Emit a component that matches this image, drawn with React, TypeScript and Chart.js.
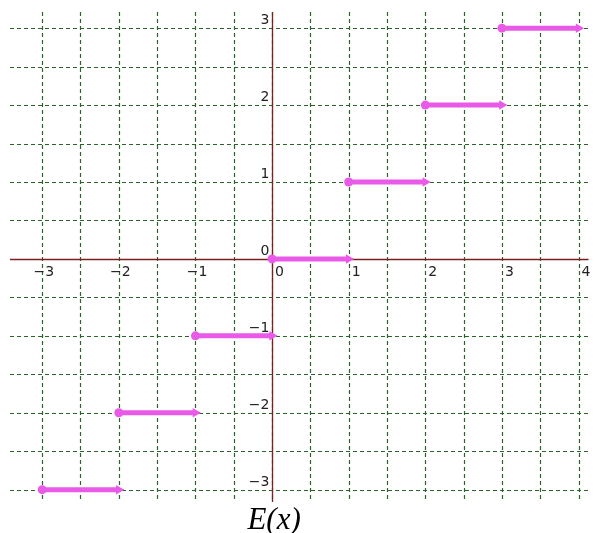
import React, { useEffect, useRef } from 'react';
import { Chart, registerables } from 'chart.js';
Chart.register(...registerables);

const stepStarts = [-3, -2, -1, 0, 1, 2, 3];
const stepEnds = [-2, -1, 0, 1, 2, 3, 4];
const stepValues = [-3, -2, -1, 0, 1, 2, 3];
const xTickValues = [-3, -2, -1, 0, 1, 2, 3, 4];
const xTickLabels = ['−3', '−2', '−1', '0', '1', '2', '3', '4'];
const yTickValues = [-3, -2, -1, 0, 1, 2, 3];
const yTickLabels = ['−3', '−2', '−1', '0', '1', '2', '3'];
const gridStep = 0.5;
const xRange = [-3.42, 4.13];
const yRange = [-3.16, 3.21];
const chartTitle = 'E(x)';

const GRID = '#2c632c';
const AXIS = '#7a2020';
const SEG = '#ea5ae8';
const LABEL_FONT = '14px "DejaVu Sans", Arial, sans-serif';

const overlay = {
  id: 'overlay',
  beforeDatasetsDraw(chart: any) {
    const { ctx, chartArea, scales } = chart;
    const xs = scales.x;
    const ys = scales.y;
    ctx.save();
    // grid
    ctx.strokeStyle = GRID;
    ctx.lineWidth = 1.2;
    ctx.setLineDash([4, 3]);
    const x0 = Math.ceil(xs.min / gridStep) * gridStep;
    for (let v = x0; v <= xs.max + 1e-9; v += gridStep) {
      const px = Math.round(xs.getPixelForValue(v)) + 0.5;
      ctx.beginPath();
      ctx.moveTo(px, chartArea.top);
      ctx.lineTo(px, chartArea.bottom);
      ctx.stroke();
    }
    const y0 = Math.ceil(ys.min / gridStep) * gridStep;
    for (let v = y0; v <= ys.max + 1e-9; v += gridStep) {
      const py = Math.round(ys.getPixelForValue(v)) + 0.5;
      ctx.beginPath();
      ctx.moveTo(chartArea.left, py);
      ctx.lineTo(chartArea.right, py);
      ctx.stroke();
    }
    ctx.setLineDash([]);
    // axes
    const ax = Math.round(xs.getPixelForValue(0)) + 0.5;
    const ay = Math.round(ys.getPixelForValue(0)) + 0.5;
    ctx.strokeStyle = AXIS;
    ctx.lineWidth = 1.3;
    ctx.beginPath();
    ctx.moveTo(chartArea.left, ay);
    ctx.lineTo(chartArea.right, ay);
    ctx.moveTo(ax, chartArea.top);
    ctx.lineTo(ax, chartArea.bottom);
    ctx.stroke();
    // labels
    ctx.fillStyle = '#222';
    ctx.font = LABEL_FONT;
    ctx.textBaseline = 'alphabetic';
    const minusW = ctx.measureText('−').width;
    xTickValues.forEach((v, i) => {
      const px = xs.getPixelForValue(v);
      const lab = xTickLabels[i];
      const neg = lab.startsWith('−');
      ctx.textAlign = 'left';
      ctx.fillText(lab, px + 3 - (neg ? minusW : 0), ay + 16);
    });
    yTickValues.forEach((v, i) => {
      const py = ys.getPixelForValue(v);
      ctx.textAlign = 'right';
      ctx.fillText(yTickLabels[i], ax - 3, py - 4);
    });
    ctx.restore();
  },
  afterDraw(chart: any) {
    const { ctx, scales } = chart;
    const ax = scales.x.getPixelForValue(0);
    ctx.save();
    ctx.fillStyle = '#000';
    ctx.font = 'italic 31px "Liberation Serif", "Times New Roman", serif';
    ctx.textAlign = 'center';
    ctx.textBaseline = 'alphabetic';
    ctx.fillText(chartTitle, ax + 2, 529);
    ctx.restore();
  },
};

export default function App() {
  const ref = useRef<HTMLCanvasElement>(null);
  useEffect(() => {
    if (!ref.current) return;
    const datasets = stepStarts.map((s, i) => ({
      data: [
        { x: s, y: stepValues[i] },
        { x: stepEnds[i], y: stepValues[i] },
      ],
      showLine: true,
      borderColor: SEG,
      backgroundColor: SEG,
      borderWidth: 5,
      pointStyle: ['circle', 'triangle'],
      pointRotation: [0, 90],
      pointRadius: [4.5, 5.5],
      pointBorderWidth: 0,
      pointBackgroundColor: SEG,
    }));
    const chart = new Chart(ref.current, {
      type: 'scatter',
      data: { datasets } as any,
      options: {
        animation: false,
        responsive: false,
        layout: { padding: { left: 10, right: 4, top: 12, bottom: 31 } },
        plugins: { legend: { display: false }, tooltip: { enabled: false }, title: { display: false } },
        scales: {
          x: { type: 'linear', min: xRange[0], max: xRange[1], display: false },
          y: { type: 'linear', min: yRange[0], max: yRange[1], display: false },
        },
      } as any,
      plugins: [overlay],
    });
    return () => chart.destroy();
  }, []);
  return (
    <div style={{ position: 'absolute', left: 0, top: 0, width: 594, height: 533, background: '#fff' }}>
      <canvas ref={ref} width={594} height={533} />
    </div>
  );
}
